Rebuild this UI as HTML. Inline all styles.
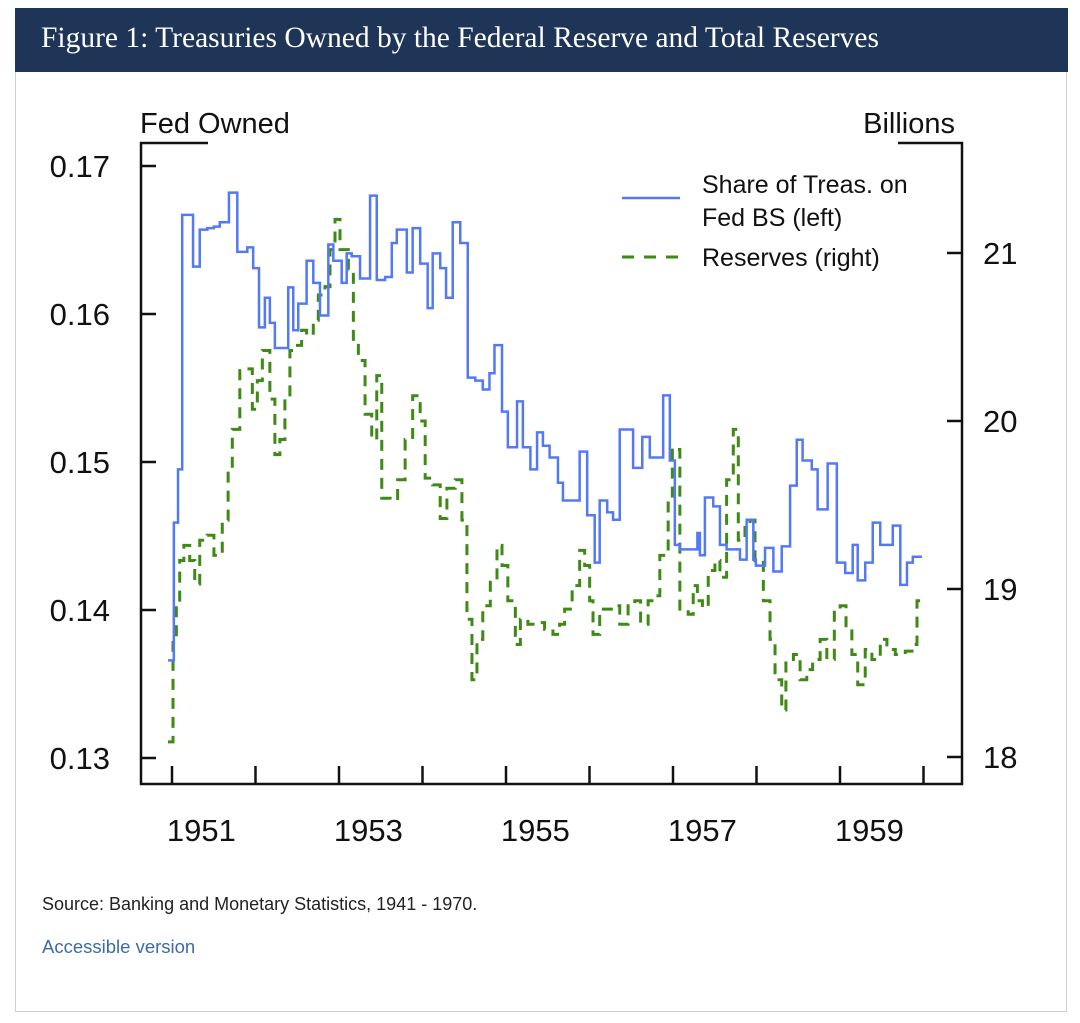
<!DOCTYPE html>
<html><head><meta charset="utf-8"><style>
body{margin:0;background:#fff;width:1080px;height:1023px;overflow:hidden;font-family:"Liberation Sans",sans-serif}
#frame{position:absolute;left:15px;top:8px;width:1052px;height:1004px;border:1px solid #d0d0d0;box-sizing:border-box}
#hdr{position:absolute;left:15px;top:8px;width:1053px;height:64px;background:#1e3557}
#hdr span{position:absolute;left:26px;top:14px;color:#fff;font-family:"Liberation Serif",serif;font-size:29.5px}
#src{position:absolute;left:42px;top:894px;font-size:18px;color:#222}
#acc{position:absolute;left:42px;top:936px;font-size:18.5px;color:#3d6aa8}
svg{position:absolute;left:0;top:0}
</style></head><body>
<div id="frame"></div>
<div id="hdr"><span>Figure 1: Treasuries Owned by the Federal Reserve and Total Reserves</span></div>
<svg id="chart" width="1080" height="1023"></svg>
<div id="src">Source: Banking and Monetary Statistics, 1941 - 1970.</div>
<div id="acc">Accessible version</div>
<script>
const leftTicks=[0.13,0.14,0.15,0.16,0.17];
const leftTickLabels=["0.13","0.14","0.15","0.16","0.17"];
const rightTicks=[18,19,20,21];
const rightTickLabels=["18","19","20","21"];
const yearTicks=[1951,1952,1953,1954,1955,1956,1957,1958,1959,1960];
const yearLabels=[1951,1953,1955,1957,1959];
const shareDates=[1951.00,1951.07,1951.12,1951.17,1951.30,1951.38,1951.47,1951.55,1951.62,1951.73,1951.83,1951.95,1952.02,1952.09,1952.16,1952.22,1952.28,1952.44,1952.50,1952.56,1952.66,1952.74,1952.82,1952.92,1952.98,1953.08,1953.14,1953.20,1953.30,1953.42,1953.50,1953.60,1953.68,1953.74,1953.86,1953.93,1954.02,1954.11,1954.17,1954.26,1954.33,1954.41,1954.50,1954.59,1954.68,1954.77,1954.85,1954.91,1955.00,1955.07,1955.18,1955.25,1955.34,1955.42,1955.49,1955.57,1955.67,1955.73,1955.93,1956.02,1956.11,1956.17,1956.26,1956.33,1956.41,1956.57,1956.68,1956.77,1956.93,1957.01,1957.07,1957.13,1957.34,1957.37,1957.43,1957.53,1957.61,1957.69,1957.85,1957.93,1958.01,1958.04,1958.15,1958.25,1958.35,1958.45,1958.53,1958.60,1958.71,1958.78,1958.90,1959.01,1959.11,1959.20,1959.26,1959.35,1959.44,1959.53,1959.68,1959.77,1959.85,1959.92];
const shareValues=[0.1366,0.1459,0.1495,0.1667,0.1632,0.1657,0.1658,0.1659,0.1662,0.1682,0.1642,0.1645,0.1631,0.1591,0.1611,0.1594,0.1577,0.1618,0.1589,0.1607,0.1636,0.1621,0.1599,0.1647,0.1636,0.1621,0.1641,0.1639,0.1624,0.1680,0.1623,0.1625,0.1648,0.1657,0.1628,0.1658,0.1634,0.1604,0.1641,0.1631,0.1611,0.1662,0.1648,0.1557,0.1555,0.1549,0.1560,0.1579,0.1534,0.1510,0.1541,0.1510,0.1495,0.1520,0.1511,0.1503,0.1486,0.1474,0.1507,0.1464,0.1432,0.1474,0.1466,0.1461,0.1522,0.1496,0.1517,0.1503,0.1545,0.1501,0.1444,0.1441,0.1452,0.1437,0.1476,0.1470,0.1444,0.1441,0.1434,0.1461,0.1434,0.1430,0.1442,0.1426,0.1443,0.1484,0.1515,0.1501,0.1495,0.1468,0.1499,0.1432,0.1425,0.1444,0.1420,0.1432,0.1459,0.1444,0.1457,0.1417,0.1432,0.1436];
const reserveDates=[1951.00,1951.06,1951.10,1951.14,1951.19,1951.26,1951.32,1951.38,1951.47,1951.55,1951.65,1951.72,1951.77,1951.86,1951.95,1952.01,1952.07,1952.13,1952.22,1952.28,1952.34,1952.40,1952.46,1952.53,1952.60,1952.66,1952.74,1952.80,1952.88,1952.94,1953.00,1953.06,1953.16,1953.22,1953.28,1953.36,1953.44,1953.50,1953.56,1953.66,1953.75,1953.84,1953.93,1954.02,1954.08,1954.17,1954.26,1954.34,1954.44,1954.52,1954.58,1954.64,1954.70,1954.77,1954.86,1954.94,1955.00,1955.07,1955.16,1955.22,1955.31,1955.42,1955.51,1955.61,1955.69,1955.75,1955.84,1955.93,1955.99,1956.05,1956.09,1956.17,1956.33,1956.41,1956.51,1956.59,1956.66,1956.75,1956.83,1956.89,1956.99,1957.04,1957.10,1957.13,1957.23,1957.29,1957.34,1957.40,1957.47,1957.55,1957.61,1957.69,1957.77,1957.83,1957.91,1957.97,1958.03,1958.13,1958.21,1958.27,1958.35,1958.40,1958.49,1958.57,1958.65,1958.72,1958.81,1958.89,1958.98,1959.05,1959.12,1959.19,1959.26,1959.35,1959.43,1959.53,1959.61,1959.71,1959.83,1959.91,1959.97];
const reserveValues=[18.09,18.70,18.90,19.17,19.26,19.17,19.03,19.29,19.32,19.20,19.41,19.71,19.95,20.30,20.31,20.07,20.24,20.42,20.13,19.80,19.89,20.13,20.42,20.45,20.54,20.51,20.60,20.75,20.80,21.02,21.20,21.02,20.90,20.45,20.36,20.04,19.89,20.27,19.54,19.53,19.65,19.89,20.15,20.00,19.66,19.62,19.42,19.60,19.65,19.41,18.82,18.46,18.70,18.90,19.05,19.26,19.14,18.93,18.67,18.82,18.79,18.80,18.76,18.73,18.79,18.88,19.02,19.23,19.14,18.93,18.73,18.88,18.90,18.79,18.90,18.93,18.79,18.93,18.96,19.20,19.53,19.84,19.83,18.88,18.85,19.02,18.93,18.89,19.11,19.17,19.07,19.65,19.95,19.29,19.38,19.41,19.17,18.93,18.70,18.46,18.28,18.58,18.61,18.46,18.52,18.58,18.70,18.58,18.88,18.90,18.76,18.61,18.43,18.64,18.58,18.70,18.64,18.61,18.63,18.67,18.93];
const endDate=1960.03;

const NS="http://www.w3.org/2000/svg";
const svg=document.getElementById('chart');
const X=t=>168+(t-1951)*83.5;
const YL=v=>758-(v-0.13)*14800;
const YR=v=>757-(v-18)*168;
function mk(tag,attrs,parent){const e=document.createElementNS(NS,tag);for(const k in attrs)e.setAttribute(k,attrs[k]);(parent||svg).appendChild(e);return e;}
const ax={stroke:"#111","stroke-width":2.5,fill:"none"};
let e;
e=mk('path',Object.assign({d:"M208,143 H141 V784 H962 V143 H898"},ax));


function txt(x,y,s,size,anchor,name){const t=mk('text',{x:x,y:y,'font-size':size,'text-anchor':anchor,fill:'#111','font-family':'"Liberation Sans",sans-serif'});t.textContent=s;


return t;}
leftTicks.forEach((v,i)=>{const y=YL(v);
e=mk('line',Object.assign({x1:141,x2:156,y1:y,y2:y},ax));


txt(110,y+11,leftTickLabels[i],31,'end','left-tick-label');});
rightTicks.forEach((v,i)=>{const y=YR(v);
e=mk('line',Object.assign({x1:947,x2:962,y1:y,y2:y},ax));


txt(983,y+11,rightTickLabels[i],31,'start','right-tick-label');});
yearTicks.forEach(t=>{const x=X(t)+4;
e=mk('line',Object.assign({x1:x,x2:x,y1:784,y2:766},ax));

});
yearLabels.forEach(t=>{txt(X(t+0.4),841,String(t),31,'middle','x-tick-label');});
txt(140,133,"Fed Owned",29,'start','left-axis-title');
txt(955,133,"Billions",29,'end','right-axis-title');
function stepPath(dates,vals,Y){let d="M"+X(dates[0])+","+Y(vals[0]);for(let i=1;i<dates.length;i++){d+=" H"+X(dates[i])+" V"+Y(vals[i]);}d+=" H"+X(endDate);return d;}
e=mk('path',{d:stepPath(reserveDates,reserveValues,YR),stroke:"#3f8a16","stroke-width":3,fill:"none","stroke-dasharray":"11 8"});


e=mk('path',{d:stepPath(shareDates,shareValues,YL),stroke:"#5379f5","stroke-width":2.5,fill:"none"});


e=mk('line',{x1:622,x2:680,y1:198,y2:198,stroke:"#5379f5","stroke-width":2.5});


e=mk('line',{x1:622,x2:684,y1:257,y2:257,stroke:"#3f8a16","stroke-width":3,"stroke-dasharray":"12 10"});


txt(702,193,"Share of Treas. on",25,'start','legend-share-label');
txt(702,226,"Fed BS (left)",25,'start','legend-share-label-2');
txt(702,266,"Reserves (right)",25,'start','legend-reserves-label');
</script>
</body></html>
